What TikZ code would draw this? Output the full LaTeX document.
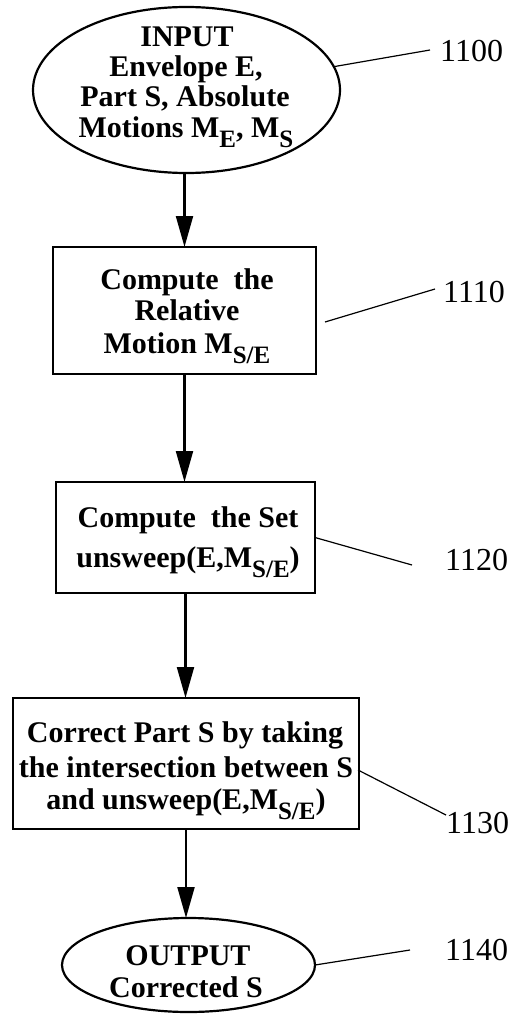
\documentclass[tikz,border=0pt]{standalone}
\usepackage{fontspec}
\setmainfont{Liberation Serif}
\usetikzlibrary{arrows.meta,shapes.geometric}
\newcommand{\lsub}[1]{\raisebox{-10pt}{\fontsize{25}{25}\selectfont #1}}
\begin{document}
\begin{tikzpicture}[x=1pt,y=-1pt,
  shapeline/.style={draw, line width=2.2pt, inner sep=0pt, outer sep=0pt},
  ell/.style={shapeline, ellipse},
  box/.style={shapeline, rectangle},
  txt/.style={anchor=base, inner sep=0pt, font=\fontsize{30}{30}\selectfont\bfseries},
  num/.style={anchor=base west, inner sep=0pt, font=\fontsize{32}{32}\selectfont},
  arr/.style={line width=2.2pt, -{Triangle[length=31pt,width=17pt]}},
  leader/.style={line width=1.2pt}]
\useasboundingbox (0,0) rectangle (507,1014);

% shapes
\node[ell, minimum width=307pt, minimum height=166pt] (e1) at (186.5,90) {};
\node[box, minimum width=263pt, minimum height=127pt] (b1) at (184.5,310.5) {};
\node[box, minimum width=259pt, minimum height=111pt] (b2) at (185.5,537.5) {};
\node[box, minimum width=346pt, minimum height=131pt] (b3) at (186,763.5) {};
\node[ell, minimum width=253pt, minimum height=94pt] (e2) at (188.5,965) {};

% texts
\node[txt] (t1a) at (187,47) {INPUT};
\node[txt] (t1b) at (186,77) {Envelope E,};
\node[txt] (t1c) at (185,107) {Part S, Absolute};
\node[txt] (t1d) at (186,137) {Motions M\lsub{E}, M\lsub{S}};

\node[txt] (t2a) at (187,289) {Compute\ \ the};
\node[txt] (t2b) at (187,320) {Relative};
\node[txt] (t2c) at (187,353) {Motion M\lsub{S/E}};

\node[txt] (t3a) at (188,527) {Compute\ \ the Set};
\node[txt] (t3b) at (188,567) {unsweep(E,M\lsub{S/E})};

\node[txt] (t4a) at (185,742) {Correct Part S by taking};
\node[txt] (t4b) at (186,777) {the intersection between S};
\node[txt] (t4c) at (186,809) {and unsweep(E,M\lsub{S/E})};

\node[txt] (t5a) at (188,965) {OUTPUT};
\node[txt] (t5b) at (186,997) {Corrected S};

% arrows
\draw[arr] (b1.north |- e1.south) -- (b1.north);
\draw[arr] (b1.south) -- (b1.south |- b2.north);
\draw[arr] (b2.south) -- (b2.south |- b3.north);
\draw[arr] (b3.south) -- (b3.south |- e2.north);

% reference numbers
\node[num] (n1100) at (440,62) {1100};
\node[num] (n1110) at (443,302) {1110};
\node[num] (n1120) at (445,570) {1120};
\node[num] (n1130) at (446,833) {1130};
\node[num] (n1140) at (445,960) {1140};

\coordinate (q1100) at (430,50);
\coordinate (p1110) at (325,322);
\coordinate (q1110) at (435,289);
\coordinate (q1120) at (412,565);
\coordinate (p1130) at (358,770);
\coordinate (q1130) at (446,815);
\coordinate (q1140) at (410,950);

\draw[leader] (e1.9) -- (q1100);
\draw[leader] (p1110) -- (q1110);
\draw[leader] (b2.east) -- (q1120);
\draw[leader] (p1130) -- (q1130);
\draw[leader] (e2.east) -- (q1140);
\end{tikzpicture}
\end{document}
